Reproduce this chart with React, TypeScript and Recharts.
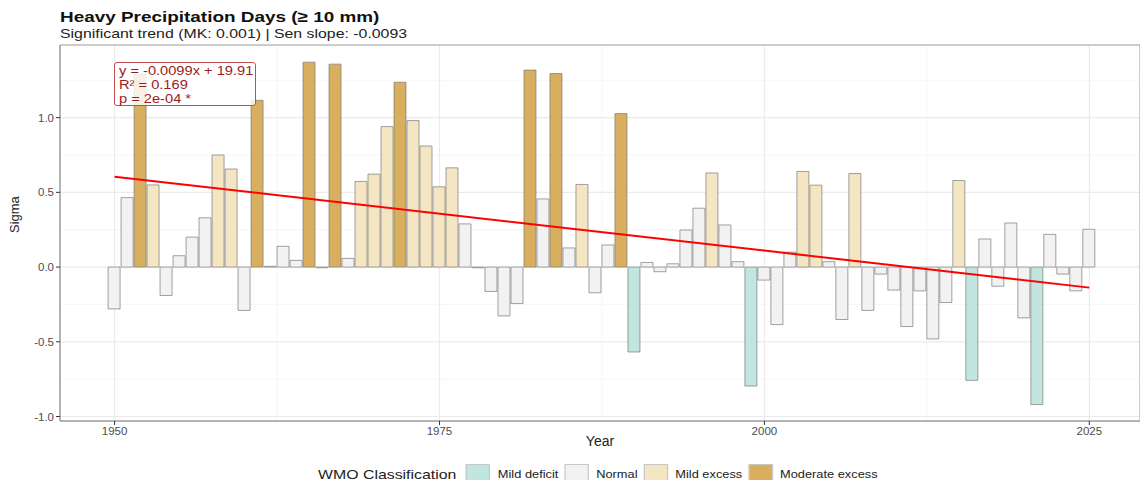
import { ComposedChart, Bar, Cell, XAxis, YAxis, CartesianGrid, ReferenceLine, ReferenceArea } from "recharts";

const FIRST_YEAR = 1950;

// standardized anomaly of heavy precipitation days, one value per year from 1950
const SIGMA = [
  -0.28, 0.465, 1.29, 0.55, -0.19, 0.076, 0.2, 0.33, 0.75, 0.656,
  -0.29, 1.116, 0.005, 0.139, 0.045, 1.371, -0.005, 1.358, 0.058, 0.573,
  0.622, 0.94, 1.237, 0.98, 0.81, 0.537, 0.664, 0.289, -0.005, -0.163,
  -0.327, -0.244, 1.318, 0.456, 1.295, 0.128, 0.553, -0.172, 0.148, 1.027,
  -0.568, 0.031, -0.031, 0.022, 0.248, 0.394, 0.63, 0.282, 0.036, -0.796,
  -0.087, -0.385, 0.1, 0.64, 0.548, 0.036, -0.351, 0.626, -0.29, -0.047,
  -0.154, -0.398, -0.159, -0.481, -0.237, 0.579, -0.758, 0.188, -0.128, 0.295,
  -0.34, -0.92, 0.219, -0.047, -0.159, 0.253,
];

const YEARS = SIGMA.map((_, i) => FIRST_YEAR + i);

const X_TICKS = [1950, 1975, 2000, 2025];
const X_MINOR = [1962.5, 1987.5, 2012.5];
const Y_TICKS = [-1, -0.5, 0, 0.5, 1];
const Y_MINOR = [-0.75, -0.25, 0.25, 0.75, 1.25];

// linear fit reported in the annotation
const SLOPE = -0.0099;
const INTERCEPT = 19.91;
const FIT_LABELS = ["y = -0.0099x + 19.91", "R² = 0.169", "p = 2e-04 *"];

const CLASSES = [
  { name: "Mild deficit", color: "#c1e6e0" },
  { name: "Normal", color: "#f2f2f2" },
  { name: "Mild excess", color: "#f5e6c3" },
  { name: "Moderate excess", color: "#d8ae5f" },
];

const X_DOMAIN = [1945.8, 2028.9];
const Y_DOMAIN = [-1.03, 1.486];

function classColor(v: number) {
  if (v < -0.5) return CLASSES[0].color;
  if (v <= 0.5) return CLASSES[1].color;
  if (v <= 1.0) return CLASSES[2].color;
  return CLASSES[3].color;
}

const data = YEARS.map((year, i) => ({ year, sigma: SIGMA[i] }));

const FONT = '"Liberation Sans", Arial, Helvetica, sans-serif';
// text in this layout is set slightly wide
const WIDE = "scaleX(1.22)";

function Legend() {
  return (
    <div
      style={{
        position: "absolute",
        left: 318,
        top: 464,
        display: "flex",
        alignItems: "center",
        fontFamily: FONT,
        color: "#222",
        transform: WIDE,
        transformOrigin: "left center",
        whiteSpace: "nowrap",
      }}
    >
      <span style={{ fontSize: 13, marginRight: 8 }}>WMO Classification</span>
      {CLASSES.map((c) => (
        <span key={c.name} style={{ display: "flex", alignItems: "center", marginRight: 5 }}>
          <span
            style={{
              width: 20,
              height: 20,
              background: c.color,
              border: "1px solid #c8c8c8",
              boxSizing: "border-box",
              marginRight: 6,
            }}
          />
          <span style={{ fontSize: 10.5 }}>{c.name}</span>
        </span>
      ))}
    </div>
  );
}

export default function App() {
  return (
    <div style={{ position: "absolute", left: 0, top: 0, width: 1140, height: 480, background: "#fff", overflow: "hidden", fontFamily: FONT }}>
      <div style={{ position: "absolute", left: 60, top: 8, fontSize: 15.5, fontWeight: "bold", color: "#111", transform: WIDE, transformOrigin: "left top", whiteSpace: "nowrap" }}>
        Heavy Precipitation Days (≥ 10 mm)
      </div>
      <div style={{ position: "absolute", left: 60, top: 26, fontSize: 13, color: "#222", transform: WIDE, transformOrigin: "left top", whiteSpace: "nowrap" }}>
        Significant trend (MK: 0.001) | Sen slope: -0.0093
      </div>

      <ComposedChart
        width={1140}
        height={480}
        data={data}
        margin={{ top: 45, right: 0, bottom: 29, left: 0 }}
        style={{ position: "absolute", left: 0, top: 0 }}
      >
        <CartesianGrid horizontalValues={Y_MINOR} verticalValues={X_MINOR} stroke="#f4f4f4" strokeWidth={0.8} />
        <CartesianGrid horizontalValues={Y_TICKS} verticalValues={X_TICKS} stroke="#ebebeb" strokeWidth={1.2} />
        <XAxis
          dataKey="year"
          type="number"
          domain={X_DOMAIN}
          allowDataOverflow
          ticks={X_TICKS}
          height={30}
          tickSize={4}
          tickMargin={2}
          tick={{ fill: "#4d4d4d", fontSize: 11.5 }}
          axisLine={{ stroke: "#9a9a9a" }}
          tickLine={{ stroke: "#333" }}
          label={{ value: "Year", position: "insideBottom", offset: 5, fill: "#222", fontSize: 14 }}
        />
        <YAxis
          type="number"
          domain={Y_DOMAIN}
          allowDataOverflow
          ticks={Y_TICKS}
          width={60}
          tickSize={4}
          tickMargin={2}
          tickFormatter={(v: number) => v.toFixed(1)}
          tick={{ fill: "#4d4d4d", fontSize: 11.5 }}
          axisLine={{ stroke: "#9a9a9a" }}
          tickLine={{ stroke: "#333" }}
          label={{ value: "Sigma", angle: -90, position: "insideLeft", offset: 14, fill: "#222", fontSize: 13 }}
        />
        <ReferenceArea
          x1={X_DOMAIN[0]}
          x2={X_DOMAIN[1]}
          y1={Y_DOMAIN[0]}
          y2={Y_DOMAIN[1]}
          fill="none"
          stroke="#9a9a9a"
          strokeWidth={1}
          ifOverflow="visible"
        />
        <Bar dataKey="sigma" barSize={12} isAnimationActive={false}>
          {data.map((d) => (
            <Cell key={d.year} fill={classColor(d.sigma)} stroke="#7a7a7a" strokeWidth={0.7} />
          ))}
        </Bar>
        <ReferenceLine
          segment={[
            { x: FIRST_YEAR, y: SLOPE * FIRST_YEAR + INTERCEPT },
            { x: YEARS[YEARS.length - 1], y: SLOPE * YEARS[YEARS.length - 1] + INTERCEPT },
          ]}
          stroke="#ff0000"
          strokeWidth={2}
          ifOverflow="visible"
        />
      </ComposedChart>

      <div
        style={{
          position: "absolute",
          left: 114,
          top: 62,
          width: 142,
          height: 44,
          boxSizing: "border-box",
          border: "1px solid #c0504d",
          borderRadius: 3,
          background: "rgba(255,255,255,0.82)",
          color: "#9b1c1c",
          fontSize: 12,
          lineHeight: "14px",
          padding: "1px 0 0 4px",
        }}
      >
        <div style={{ transform: WIDE, transformOrigin: "left top", whiteSpace: "nowrap" }}>
          {FIT_LABELS.map((t) => (
            <div key={t}>{t}</div>
          ))}
        </div>
      </div>

      <Legend />
    </div>
  );
}
